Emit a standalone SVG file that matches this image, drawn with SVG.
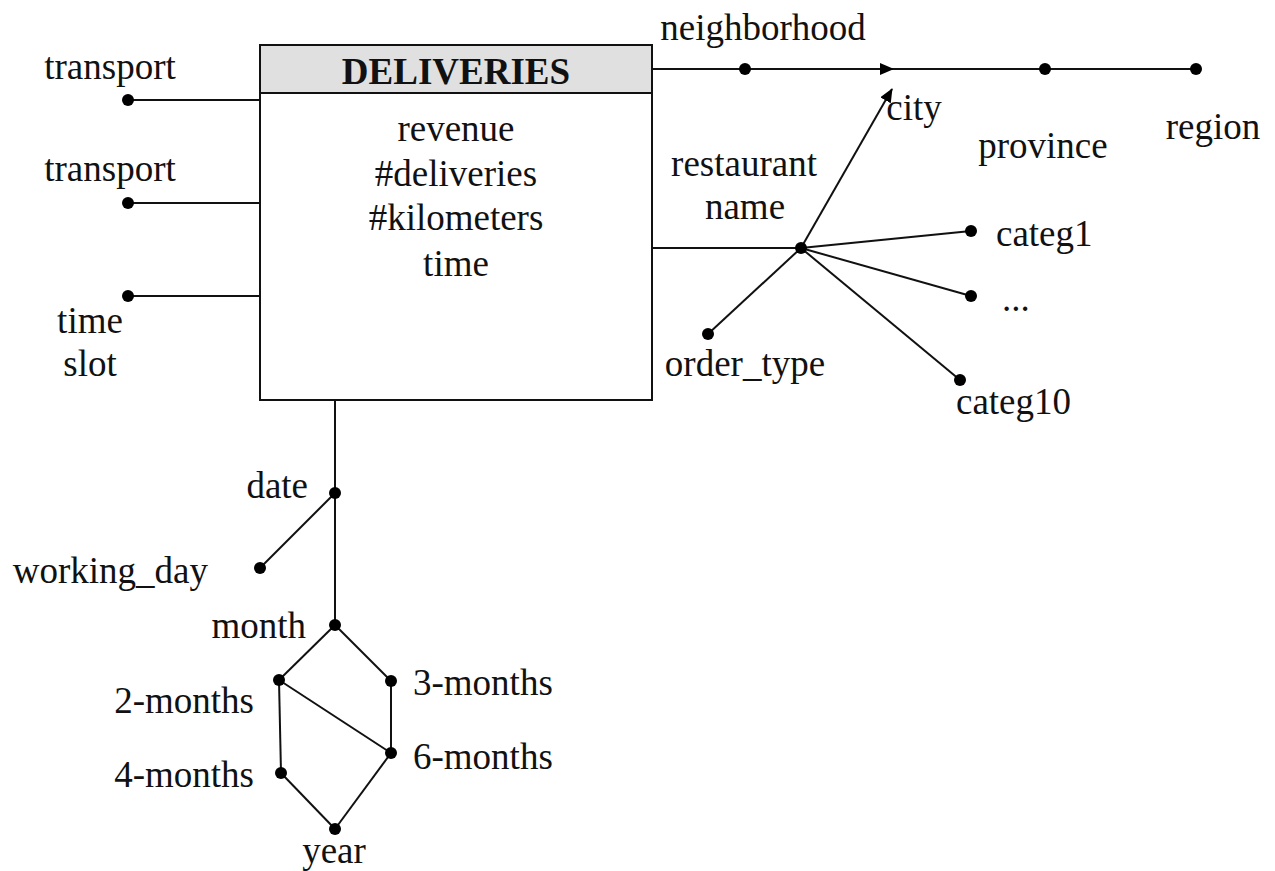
<svg xmlns="http://www.w3.org/2000/svg" width="1275" height="871" viewBox="0 0 1275 871">
<style>
text{font-family:"Liberation Serif","Times New Roman",serif;font-size:37px;fill:#111}
.m{text-anchor:middle}
.e{text-anchor:end}
.ln{stroke:#111;stroke-width:2;fill:none}
.d{fill:#000}
</style>
<defs>
<marker id="ah" markerWidth="14" markerHeight="12" refX="13" refY="6" orient="auto" markerUnits="userSpaceOnUse">
<path d="M0,0 L14,6 L0,12 Z" fill="#000"/>
</marker>
</defs>
<rect width="1275" height="871" fill="#fff"/>
<g id="connectors">
<line class="ln" x1="652" y1="69" x2="893" y2="69" marker-end="url(#ah)"/>
<line class="ln" x1="893" y1="69" x2="1196" y2="69"/>
<line class="ln" x1="801" y1="248" x2="892" y2="89" marker-end="url(#ah)"/>
<line class="ln" x1="128" y1="100" x2="260" y2="100"/>
<line class="ln" x1="128" y1="203" x2="260" y2="203"/>
<line class="ln" x1="128" y1="296" x2="260" y2="296"/>
<line class="ln" x1="652" y1="248" x2="801" y2="248"/>
<line class="ln" x1="801" y1="248" x2="971" y2="231"/>
<line class="ln" x1="801" y1="248" x2="971" y2="296"/>
<line class="ln" x1="801" y1="248" x2="960" y2="380"/>
<line class="ln" x1="801" y1="248" x2="708" y2="334"/>
<line class="ln" x1="335" y1="400" x2="335" y2="625"/>
<line class="ln" x1="335" y1="493" x2="260" y2="568"/>
<line class="ln" x1="335" y1="625" x2="279" y2="680"/>
<line class="ln" x1="335" y1="625" x2="391" y2="681"/>
<line class="ln" x1="279" y1="680" x2="281" y2="773"/>
<line class="ln" x1="279" y1="680" x2="391" y2="753"/>
<line class="ln" x1="391" y1="681" x2="391" y2="753"/>
<line class="ln" x1="281" y1="773" x2="335" y2="829"/>
<line class="ln" x1="391" y1="753" x2="335" y2="829"/>
</g>
<g id="deliveries">
<rect x="260" y="45" width="392" height="355" fill="#fff" stroke="#111" stroke-width="2"/>
<rect x="260" y="45" width="392" height="48" fill="#e0e0e0" stroke="#111" stroke-width="2"/>
<text class="m" x="456" y="84" font-weight="bold">DELIVERIES</text>
<text class="m" x="456" y="141">revenue</text>
<text class="m" x="456" y="186">#deliveries</text>
<text class="m" x="456" y="230">#kilometers</text>
<text class="m" x="456" y="276">time</text>
</g>
<g id="transport1"><circle class="d" cx="128" cy="100" r="6"/><text class="m" x="110" y="79">transport</text></g>
<g id="transport2"><circle class="d" cx="128" cy="203" r="6"/><text class="m" x="110" y="181">transport</text></g>
<g id="timeslot"><circle class="d" cx="128" cy="296" r="6"/><text class="m" x="90" y="333">time</text><text class="m" x="90" y="376">slot</text></g>
<g id="neighborhood"><circle class="d" cx="745" cy="69" r="6"/><text class="m" x="763" y="40">neighborhood</text></g>
<g id="city"><text class="m" x="914" y="120">city</text></g>
<g id="province"><circle class="d" cx="1045" cy="69" r="6"/><text class="m" x="1043" y="158">province</text></g>
<g id="region"><circle class="d" cx="1196" cy="69" r="6"/><text class="m" x="1213" y="139">region</text></g>
<g id="restaurant"><circle class="d" cx="801" cy="248" r="6"/><text class="m" x="744" y="176">restaurant</text><text class="m" x="745" y="219">name</text></g>
<g id="categ1"><circle class="d" cx="971" cy="231" r="6"/><text x="996" y="246">categ1</text></g>
<g id="dots"><circle class="d" cx="971" cy="296" r="6"/><text x="1002" y="311">...</text></g>
<g id="categ10"><circle class="d" cx="960" cy="380" r="6"/><text x="956" y="414">categ10</text></g>
<g id="order_type"><circle class="d" cx="708" cy="334" r="6"/><text class="m" x="745" y="376">order_type</text></g>
<g id="date"><circle class="d" cx="335" cy="493" r="6"/><text class="e" x="308" y="498">date</text></g>
<g id="working_day"><circle class="d" cx="260" cy="568" r="6"/><text class="e" x="208" y="583">working_day</text></g>
<g id="month"><circle class="d" cx="335" cy="625" r="6"/><text class="e" x="306" y="638">month</text></g>
<g id="m2"><circle class="d" cx="279" cy="680" r="6"/><text class="e" x="254" y="713">2-months</text></g>
<g id="m3"><circle class="d" cx="391" cy="681" r="6"/><text x="413" y="695">3-months</text></g>
<g id="m6"><circle class="d" cx="391" cy="753" r="6"/><text x="413" y="769">6-months</text></g>
<g id="m4"><circle class="d" cx="281" cy="773" r="6"/><text class="e" x="254" y="787">4-months</text></g>
<g id="year"><circle class="d" cx="335" cy="829" r="6"/><text class="m" x="334" y="863">year</text></g>
</svg>
